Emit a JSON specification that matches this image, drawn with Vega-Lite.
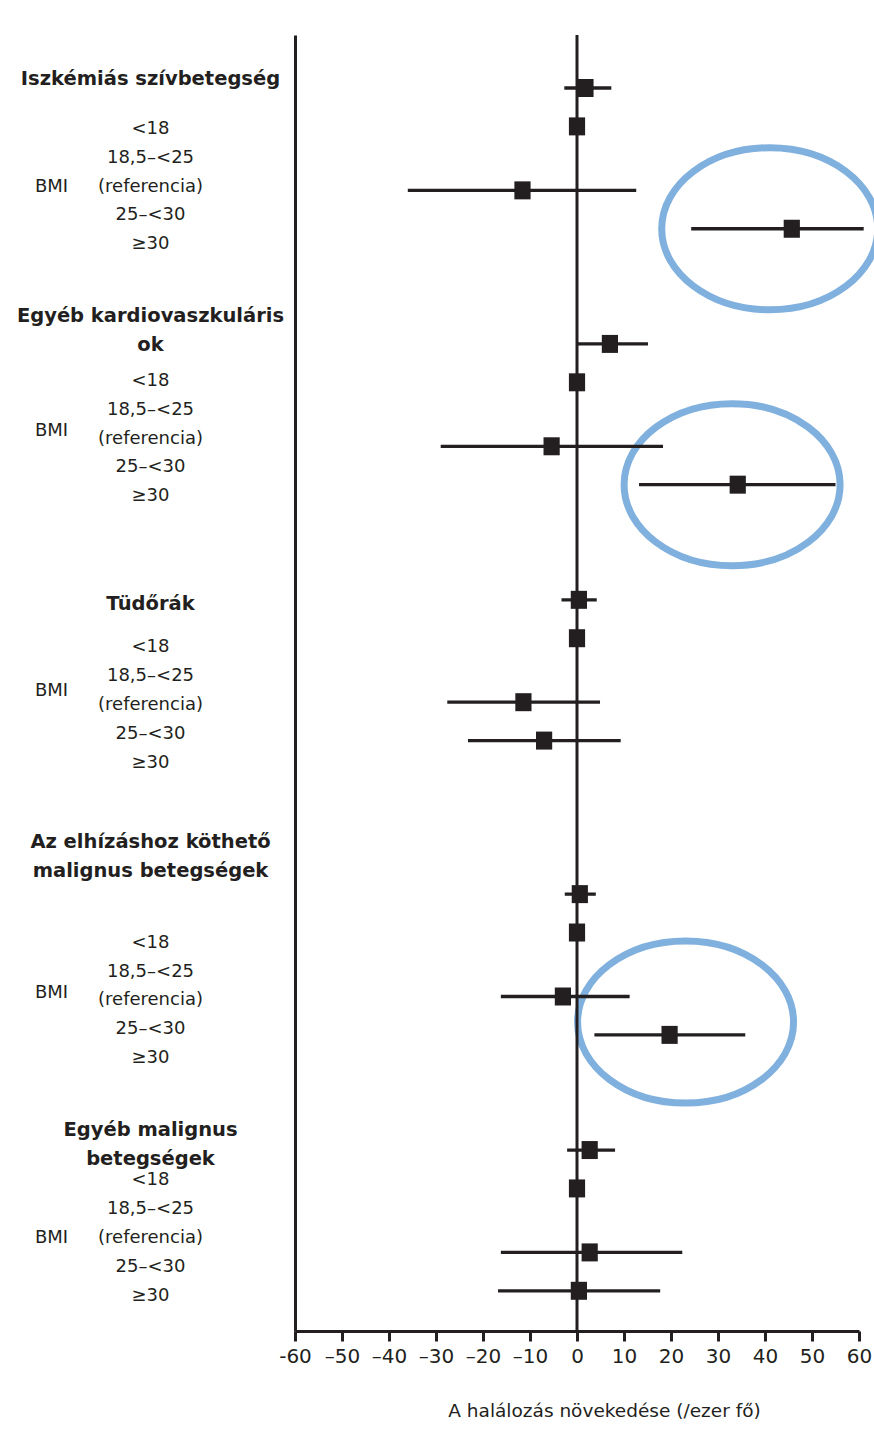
{
  "$schema": "https://vega.github.io/schema/vega-lite/v6.json",
  "width": 564,
  "height": 1296,
  "autosize": {"type": "none"},
  "padding": {"left": 295, "top": 35, "right": 15, "bottom": 114},
  "background": "white",
  "datasets": {
    "rows": [
      {"row": "1:<18", "group": "Iszkémiás szívbetegség", "bmi": "<18", "est": 1.8, "lo": -2.7, "hi": 7.3},
      {"row": "1:ref", "group": "Iszkémiás szívbetegség", "bmi": "18,5–<25 (referencia)", "est": 0},
      {"row": "1:25", "group": "Iszkémiás szívbetegség", "bmi": "25–<30", "est": -11.6, "lo": -36, "hi": 12.6},
      {"row": "1:30", "group": "Iszkémiás szívbetegség", "bmi": "≥30", "est": 45.7, "lo": 24.3, "hi": 61},
      {"row": "2:<18", "group": "Egyéb kardiovaszkuláris ok", "bmi": "<18", "est": 7.0, "lo": 0.2, "hi": 15.1},
      {"row": "2:ref", "group": "Egyéb kardiovaszkuláris ok", "bmi": "18,5–<25 (referencia)", "est": 0},
      {"row": "2:25", "group": "Egyéb kardiovaszkuláris ok", "bmi": "25–<30", "est": -5.4, "lo": -29, "hi": 18.3},
      {"row": "2:30", "group": "Egyéb kardiovaszkuláris ok", "bmi": "≥30", "est": 34.2, "lo": 13.2, "hi": 55},
      {"row": "3:<18", "group": "Tüdőrák", "bmi": "<18", "est": 0.4, "lo": -3.3, "hi": 4.2},
      {"row": "3:ref", "group": "Tüdőrák", "bmi": "18,5–<25 (referencia)", "est": 0},
      {"row": "3:25", "group": "Tüdőrák", "bmi": "25–<30", "est": -11.4, "lo": -27.6, "hi": 4.9},
      {"row": "3:30", "group": "Tüdőrák", "bmi": "≥30", "est": -7.0, "lo": -23.2, "hi": 9.3},
      {"row": "4:<18", "group": "Az elhízáshoz köthető malignus betegségek", "bmi": "<18", "est": 0.6, "lo": -2.6, "hi": 4.0},
      {"row": "4:ref", "group": "Az elhízáshoz köthető malignus betegségek", "bmi": "18,5–<25 (referencia)", "est": 0},
      {"row": "4:25", "group": "Az elhízáshoz köthető malignus betegségek", "bmi": "25–<30", "est": -3.0, "lo": -16.2, "hi": 11.2},
      {"row": "4:30", "group": "Az elhízáshoz köthető malignus betegségek", "bmi": "≥30", "est": 19.7, "lo": 3.7, "hi": 35.8},
      {"row": "5:<18", "group": "Egyéb malignus betegségek", "bmi": "<18", "est": 2.7, "lo": -2.1, "hi": 8.1},
      {"row": "5:ref", "group": "Egyéb malignus betegségek", "bmi": "18,5–<25 (referencia)", "est": 0},
      {"row": "5:25", "group": "Egyéb malignus betegségek", "bmi": "25–<30", "est": 2.7, "lo": -16.2, "hi": 22.4},
      {"row": "5:30", "group": "Egyéb malignus betegségek", "bmi": "≥30", "est": 0.4, "lo": -16.8, "hi": 17.7}
    ],
    "highlights": [
      {"row": "1:30", "x": 41.0},
      {"row": "2:30", "x": 33.0},
      {"row": "4:30*", "x": 23.1}
    ],
    "reference": [{"ref": 0}],
    "labels": [
      {"lab": "1h|Iszkémiás szívbetegség"}, {"lab": "1c|<18"}, {"lab": "1c|18,5–<25"}, {"lab": "1b|BMI"}, {"lab": "1c|(referencia)"}, {"lab": "1c|25–<30"}, {"lab": "1c|≥30"},
      {"lab": "2h|Egyéb kardiovaszkuláris"}, {"lab": "2h|ok"}, {"lab": "2c|<18"}, {"lab": "2c|18,5–<25"}, {"lab": "2b|BMI"}, {"lab": "2c|(referencia)"}, {"lab": "2c|25–<30"}, {"lab": "2c|≥30"},
      {"lab": "3h|Tüdőrák"}, {"lab": "3c|<18"}, {"lab": "3c|18,5–<25"}, {"lab": "3b|BMI"}, {"lab": "3c|(referencia)"}, {"lab": "3c|25–<30"}, {"lab": "3c|≥30"},
      {"lab": "4h|Az elhízáshoz köthető"}, {"lab": "4h|malignus betegségek"}, {"lab": "4c|<18"}, {"lab": "4c|18,5–<25"}, {"lab": "4b|BMI"}, {"lab": "4c|(referencia)"}, {"lab": "4c|25–<30"}, {"lab": "4c|≥30"},
      {"lab": "5h|Egyéb malignus"}, {"lab": "5h|betegségek"}, {"lab": "5c|<18"}, {"lab": "5c|18,5–<25"}, {"lab": "5b|BMI"}, {"lab": "5c|(referencia)"}, {"lab": "5c|25–<30"}, {"lab": "5c|≥30"}
    ]
  },
  "layer": [
    {
      "data": {"name": "labels"},
      "mark": {"type": "point", "opacity": 0},
      "encoding": {
        "y": {
          "field": "lab",
          "type": "nominal",
          "scale": {
            "type": "point",
            "padding": 0.972,
            "domain": [
              "0","1","2","3","4","1h|Iszkémiás szívbetegség","6","7","8","9","10","11","1c|<18","13","14","15","1c|18,5–<25","17","18","1b|BMI","1c|(referencia)","21","22","23","1c|25–<30","25","26","27","1c|≥30",
              "29","30","31","32","33","34","35","36","37","2h|Egyéb kardiovaszkuláris","39","40","41","2h|ok","43","44","45","46","2c|<18","48","49","50","2c|18,5–<25","52","2b|BMI","54","2c|(referencia)","56","57","58","2c|25–<30","60","61","62","2c|≥30",
              "64","65","66","67","68","69","70","71","72","73","74","75","76","77","3h|Tüdőrák","79","80","81","82","83","3c|<18","85","86","87","3c|18,5–<25","3b|BMI","90","91","3c|(referencia)","93","94","95","3c|25–<30","97","98","99","3c|≥30",
              "101","102","103","104","105","106","107","108","109","110","4h|Az elhízáshoz köthető","112","113","114","4h|malignus betegségek","116","117","118","119","120","121","122","123","124","4c|<18","126","127","128","4c|18,5–<25","130","4b|BMI","132","4c|(referencia)","134","135","136","4c|25–<30","138","139","140","4c|≥30",
              "142","143","144","145","146","147","148","149","150","5h|Egyéb malignus","152","153","154","5h|betegségek","156","157","5c|<18","159","160","161","5c|18,5–<25","163","164","5b|BMI","5c|(referencia)","167","168","169","5c|25–<30","171","172","173","5c|≥30","175","176","177","178"
            ]
          },
          "axis": {
            "orient": "left",
            "title": null,
            "ticks": false,
            "tickSize": 0,
            "domain": true,
            "domainWidth": 3,
            "domainColor": "#231f20",
            "labelAlign": "center",
            "labelLimit": 0,
            "labelOverlap": false,
            "labelBound": false,
            "labelFont": "DejaVu Sans",
            "labelColor": "#231f20",
            "labelExpr": "indexof(datum.value, '|') < 0 ? '' : split(datum.value, '|')[1]",
            "labelFontSize": {"condition": {"test": "indexof(datum.value, 'h|') >= 0", "value": 19.5}, "value": 18},
            "labelFontWeight": {"condition": {"test": "indexof(datum.value, 'h|') >= 0", "value": "bold"}, "value": "normal"},
            "labelPadding": {"condition": {"test": "indexof(datum.value, 'b|') >= 0", "value": 244}, "value": 145},
            "labelOffset": {"condition": {"test": "indexof(datum.value, 'b|') >= 0", "value": 7.2}, "value": 0}
          }
        }
      }
    },
    {
      "layer": [
        {
          "data": {"name": "highlights"},
          "mark": {
            "type": "point",
            "shape": "M-1,0A1,0.75,0,1,1,1,0A1,0.75,0,1,1,-1,0Z",
            "size": 46656,
            "filled": false,
            "color": "#80b0de",
            "strokeWidth": 7,
            "opacity": 1
          },
          "encoding": {
            "x": {
              "field": "x",
              "type": "quantitative",
              "scale": {"domain": [-60, 60], "nice": false, "zero": false},
              "title": "A halálozás növekedése (/ezer fő)",
              "axis": {
                "values": [-60, -50, -40, -30, -20, -10, 0, 10, 20, 30, 40, 50, 60],
                "labelExpr": "datum.value == -60 ? '-60' : (datum.value < 0 ? '–' + (-datum.value) : '' + datum.value)"
              }
            },
            "y": {
              "field": "row",
              "type": "nominal",
              "axis": null,
              "scale": {
                "type": "point",
                "padding": 0.142,
                "domain": [
                  "0","1","2","3","1:<18","5","6","1:ref","8","9","10","11","1:25","13","14","1:30",
                  "16","17","18","19","20","21","22","23","2:<18","25","26","2:ref","28","29","30","31","2:25","33","34","2:30",
                  "36","37","38","39","40","41","42","43","3:<18","45","46","3:ref","48","49","50","51","3:25","53","54","3:30",
                  "56","57","58","59","60","61","62","63","64","65","66","4:<18","68","69","4:ref","71","72","73","74","4:25","76","4:30*","4:30",
                  "79","80","81","82","83","84","85","86","5:<18","88","89","5:ref","91","92","93","94","5:25","96","97","5:30","99","100","101"
                ]
              }
            }
          }
        },
        {
          "data": {"name": "reference"},
          "mark": {"type": "rule", "color": "#231f20", "strokeWidth": 3},
          "encoding": {
            "x": {"field": "ref", "type": "quantitative", "title": "A halálozás növekedése (/ezer fő)"}
          }
        },
        {
          "data": {"name": "rows"},
          "transform": [{"filter": "isValid(datum.lo)"}],
          "mark": {"type": "rule", "color": "#231f20", "strokeWidth": 3.3},
          "encoding": {
            "x": {"field": "lo", "type": "quantitative", "title": "A halálozás növekedése (/ezer fő)"},
            "x2": {"field": "hi"},
            "y": {"field": "row", "type": "nominal", "axis": null}
          }
        },
        {
          "data": {"name": "rows"},
          "mark": {
            "type": "point",
            "shape": "M-0.9,-1H0.9V1H-0.9Z",
            "size": 324,
            "filled": true,
            "color": "#231f20",
            "opacity": 1
          },
          "encoding": {
            "x": {"field": "est", "type": "quantitative", "title": "A halálozás növekedése (/ezer fő)"},
            "y": {"field": "row", "type": "nominal", "axis": null}
          }
        }
      ]
    }
  ],
  "resolve": {"scale": {"y": "independent"}, "axis": {"y": "independent"}},
  "config": {
    "view": {"stroke": null},
    "axis": {"grid": false, "labelColor": "#231f20", "titleColor": "#231f20", "domainColor": "#231f20", "tickColor": "#231f20"},
    "axisX": {
      "domainWidth": 3,
      "tickWidth": 3,
      "tickSize": 10,
      "labelFont": "DejaVu Sans",
      "labelFontSize": 20,
      "labelPadding": 5,
      "labelFlush": false,
      "labelOverlap": false,
      "titleFont": "DejaVu Sans",
      "titleFontSize": 18.5,
      "titleFontWeight": "normal",
      "titleX": 309,
      "titleY": 79,
      "titleAlign": "center",
      "titleBaseline": "middle"
    }
  }
}
